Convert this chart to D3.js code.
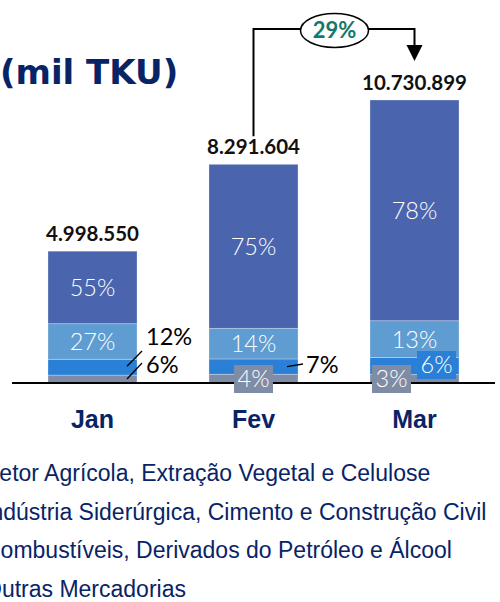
<!DOCTYPE html>
<html>
<head>
<meta charset="utf-8">
<script src="https://cdn.jsdelivr.net/npm/d3@7"></script>
<style>
  html, body { margin: 0; padding: 0; background: #fff; }
  svg { display: block; }
</style>
</head>
<body>
<div id="chart"></div>
<script>
// data
const months = ["Jan", "Fev", "Mar"];
const totals = [4998550, 8291604, 10730899];
const totalLabels = ["4.998.550", "8.291.604", "10.730.899"];
const groups = [
  "Setor Agrícola, Extração Vegetal e Celulose",
  "Indústria Siderúrgica, Cimento e Construção Civil",
  "Combustíveis, Derivados do Petróleo e Álcool",
  "Outras Mercadorias"
];
// share (%) of each group, one row per month, same order as groups
const shares = [
  [55, 27, 12, 6],
  [75, 14, 7, 4],
  [78, 13, 6, 3]
];
const growthLabel = "29%";

const w = 500, h = 602;
const navy = "#082466";
const colors = ["#4a65ae", "#5f9cd1", "#2a7fd6", "#7f8ca6"];

const svg = d3.select("#chart").append("svg")
    .attr("width", w)
    .attr("height", h);

const xScale = d3.scaleBand()
    .domain(months)
    .range([12, 495])
    .paddingInner(0.447)
    .paddingOuter(0.2235);

const yScale = d3.scaleLinear()
    .domain([0, d3.max(totals)])
    .range([383, 100]);

// one row per month, stacked from the bottom group up
const rows = months.map((m, i) => {
  const r = { month: m };
  groups.forEach((g, j) => r[g] = totals[i] * shares[i][j] / 100);
  return r;
});
const stack = d3.stack().keys(groups.slice().reverse());
const layers = stack(rows);

const bw = xScale.bandwidth();
const cx = m => xScale(m) + bw / 2;

// bars
layers.forEach(layer => {
  const gi = groups.indexOf(layer.key);
  svg.append("g")
    .selectAll("rect")
    .data(layer)
    .enter()
    .append("rect")
    .attr("x", d => xScale(d.data.month))
    .attr("width", bw)
    .attr("y", d => yScale(d[1]))
    .attr("height", d => yScale(d[0]) - yScale(d[1]))
    .style("fill", colors[gi])
    .style("stroke", "#fff")
    .style("stroke-opacity", 0.35)
    .style("stroke-width", 0.8);
});

// baseline
svg.append("line")
    .attr("x1", 12).attr("x2", 495)
    .attr("y1", yScale(0)).attr("y2", yScale(0))
    .style("stroke", "#000")
    .style("stroke-width", 2);

const pctFont = "Lato, 'DejaVu Sans', sans-serif";
const segMid = (mi, gi) => {
  const layer = layers.find(l => l.key === groups[gi]);
  const d = layer[mi];
  return (yScale(d[0]) + yScale(d[1])) / 2;
};

// white labels inside the two big segments
months.forEach((m, mi) => {
  [0, 1].forEach(gi => {
    svg.append("text")
      .attr("x", cx(m))
      .attr("y", segMid(mi, gi))
      .attr("dy", "0.36em")
      .attr("text-anchor", "middle")
      .style("font-family", pctFont)
      .style("font-weight", 300)
      .style("font-size", "23.5px")
      .style("fill", "#fff")
      .text(shares[mi][gi] + "%");
  });
});

// small segments: outside labels with leader lines
function outside(mi, gi, x1, y1, x2, y2, tx, ty) {
  svg.append("line")
    .attr("x1", x1).attr("y1", y1).attr("x2", x2).attr("y2", y2)
    .style("stroke", "#000").style("stroke-width", 1.3);
  svg.append("text")
    .attr("x", tx).attr("y", ty)
    .style("font-family", pctFont)
    .style("font-weight", 400)
    .style("font-size", "23.5px")
    .style("fill", "#000")
    .text(shares[mi][gi] + "%");
}
const right = m => xScale(m) + bw;
outside(0, 2, right("Jan") - 10, segMid(0, 2) - 1, right("Jan") + 5, 351, right("Jan") + 9, 345);
outside(0, 3, right("Jan") - 10, segMid(0, 3) + 0, right("Jan") + 5, 363, right("Jan") + 9, 373);
outside(1, 2, right("Fev") - 11, segMid(1, 2) + 0, right("Fev") + 5, 364, right("Fev") + 8, 373);

// small segments: boxed labels
function boxed(mi, gi, bx, by) {
  const bwid = 39, bh = 28;
  svg.append("rect")
    .attr("x", bx - bwid / 2).attr("y", by - bh / 2)
    .attr("width", bwid).attr("height", bh)
    .style("fill", colors[gi]);
  svg.append("text")
    .attr("x", bx).attr("y", by)
    .attr("dy", "0.36em")
    .attr("text-anchor", "middle")
    .style("font-family", pctFont)
    .style("font-weight", 300)
    .style("font-size", "23.5px")
    .style("fill", "#fff")
    .text(shares[mi][gi] + "%");
}
boxed(1, 3, cx("Fev"), yScale(0) - 4);
boxed(2, 3, cx("Mar") - 23, yScale(0) - 4);
boxed(2, 2, cx("Mar") + 22, yScale(0) - 18);

// totals above bars
svg.append("g")
  .selectAll("text")
  .data(months)
  .enter()
  .append("text")
  .attr("x", d => cx(d))
  .attr("y", (d, i) => yScale(totals[i]) - 10)
  .attr("text-anchor", "middle")
  .style("font-family", pctFont)
  .style("font-weight", 700)
  .style("font-size", "20.5px")
  .style("fill", "#111")
  .text((d, i) => totalLabels[i]);

// month labels
svg.append("g")
  .selectAll("text")
  .data(months)
  .enter()
  .append("text")
  .attr("x", d => cx(d))
  .attr("y", 428)
  .attr("text-anchor", "middle")
  .style("font-family", "'Liberation Sans', Arial, sans-serif")
  .style("font-weight", "bold")
  .style("font-size", "25px")
  .style("fill", navy)
  .text(d => d);

// growth bracket Fev -> Mar
const xa = cx("Fev"), xb = cx("Mar");
const topY = 29;
svg.append("path")
  .attr("d", `M${xa},${yScale(totals[1]) - 28} V${topY} H${xb} V46`)
  .style("fill", "none")
  .style("stroke", "#000")
  .style("stroke-width", 2);
svg.append("path")
  .attr("d", `M${xb - 8},45 L${xb + 8},45 L${xb},61 Z`)
  .style("fill", "#000");
svg.append("ellipse")
  .attr("cx", (xa + xb) / 2 + 0.5).attr("cy", 30.5)
  .attr("rx", 34).attr("ry", 17)
  .style("fill", "#fff")
  .style("stroke", "#000")
  .style("stroke-width", 1.5);
svg.append("text")
  .attr("x", (xa + xb) / 2 + 0.5).attr("y", 30.5)
  .attr("dy", "0.36em")
  .attr("text-anchor", "middle")
  .style("font-family", pctFont)
  .style("font-weight", 700)
  .style("font-size", "22px")
  .style("fill", "#12796b")
  .text(growthLabel);

// title (cut at the left in the source)
svg.append("text")
  .attr("x", 0)
  .attr("y", 84)
  .style("font-family", "'DejaVu Sans', Verdana, sans-serif")
  .style("font-weight", "bold")
  .style("font-size", "34px")
  .style("fill", navy)
  .text("(mil TKU)");

// legend (markers sit off the left edge)
svg.append("g")
  .selectAll("text")
  .data(groups)
  .enter()
  .append("text")
  .attr("x", -16)
  .attr("y", (d, i) => 481 + i * 38.7)
  .style("font-family", "'Liberation Sans', Arial, sans-serif")
  .style("font-size", "23px")
  .style("fill", navy)
  .text(d => d);
</script>
</body>
</html>
